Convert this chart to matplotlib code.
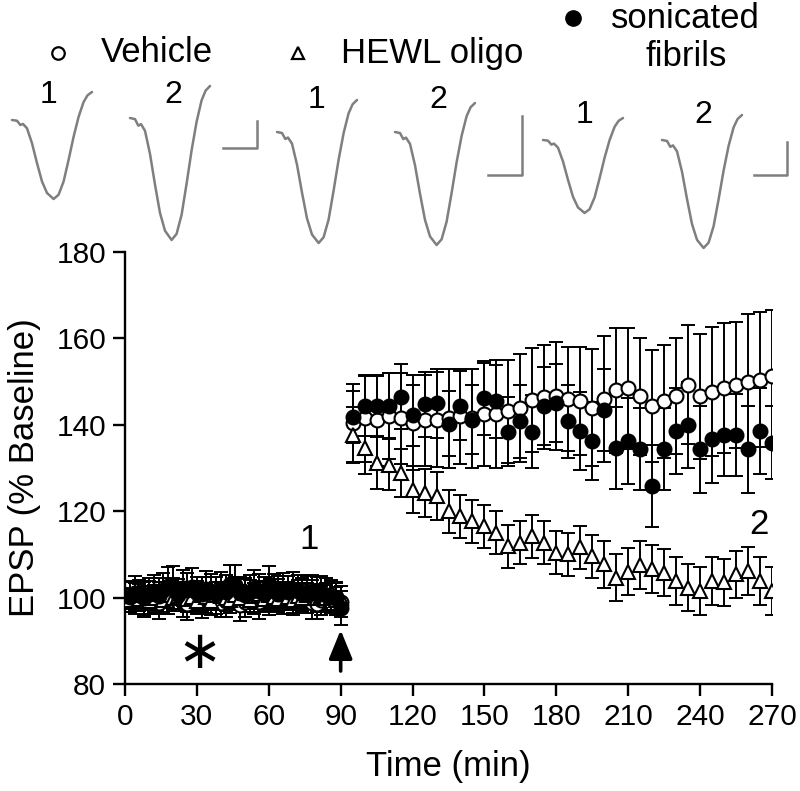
import matplotlib
matplotlib.use("Agg")
import matplotlib.pyplot as plt
import numpy as np

plt.rcParams['font.family'] = ['Liberation Sans', 'DejaVu Sans']
plt.rcParams['mathtext.fontset'] = 'dejavusans'

# ---- data ----
t_base = np.arange(2, 91, 2)      # baseline, every 2 min
t_post = np.arange(95, 271, 5)    # after induction, every 5 min

veh_base = [100.5, 99.8, 100.2, 99.0, 100.6, 99.5, 98.8, 100.1, 99.3, 101.0,
            100.2, 99.1, 98.6, 99.8, 100.4, 98.9, 99.6, 101.2, 100.0, 98.7,
            99.2, 100.5, 101.4, 98.4, 99.0, 100.8, 99.7, 98.9, 100.6, 99.4,
            100.9, 101.1, 99.8, 100.3, 99.5, 100.7, 101.0, 99.9, 98.8, 98.6,
            99.4, 100.2, 100.5, 99.6, 99.0]
hewl_base = [99.5, 100.3, 99.7, 100.6, 99.2, 100.0, 100.8, 99.4, 100.5, 99.9,
             100.4, 100.9, 99.6, 100.1, 99.3, 100.6, 100.2, 99.1, 100.7, 100.3,
             99.8, 99.5, 100.6, 100.0, 101.1, 99.4, 100.3, 100.8, 99.7, 100.5,
             100.1, 99.6, 100.9, 100.2, 99.5, 100.4, 100.0, 100.6, 101.0, 99.8,
             100.3, 99.9, 100.2, 99.5, 99.8]
fib_base = [100.2, 101.0, 100.5, 99.8, 100.9, 101.5, 100.4, 101.8, 102.6, 102.8,
            100.6, 102.3, 101.7, 102.4, 101.0, 100.8, 102.0, 101.5, 100.9, 101.8,
            101.3, 103.2, 103.0, 101.0, 100.6, 101.4, 102.2, 101.6, 100.8, 103.1,
            101.5, 100.9, 101.9, 101.3, 102.1, 101.6, 100.8, 101.2, 101.5, 100.9,
            101.3, 100.7, 100.2, 99.8, 97.6]
veh_base_err = [3.2, 3.5, 3.0, 3.6, 3.3, 3.1, 3.7, 3.4, 3.2, 3.6,
                3.3, 3.5, 3.8, 3.2, 3.4, 3.6, 3.1, 3.5, 3.7, 3.3,
                3.6, 3.2, 3.4, 3.8, 3.5, 3.3, 3.6, 3.9, 3.2, 3.4,
                3.5, 3.3, 3.7, 3.2, 3.6, 3.4, 3.3, 3.5, 3.8, 3.6,
                3.4, 3.2, 3.5, 3.7, 3.6]
hewl_base_err = [2.8, 3.0, 2.7, 3.1, 2.9, 3.0, 2.8, 3.2, 2.9, 3.0,
                 3.1, 2.8, 3.0, 2.9, 3.2, 2.8, 3.0, 3.1, 2.9, 3.0,
                 2.8, 3.1, 3.0, 2.9, 3.2, 2.8, 3.0, 2.9, 3.1, 3.0,
                 2.9, 3.0, 2.8, 3.1, 3.0, 2.9, 3.1, 2.8, 3.0, 3.2,
                 2.9, 3.0, 3.1, 2.9, 3.0]
fib_base_err = [3.6, 3.9, 3.5, 4.0, 3.7, 3.8, 4.1, 3.9, 4.4, 4.6,
                3.8, 4.0, 3.9, 4.5, 3.7, 3.9, 4.2, 4.0, 3.8, 4.1,
                3.9, 4.3, 4.6, 3.8, 4.0, 3.9, 4.2, 3.8, 4.0, 4.2,
                3.9, 4.1, 3.8, 3.6, 3.9, 3.7, 3.8, 3.9, 3.7, 3.8,
                3.6, 3.8, 3.7, 3.9, 3.9]

veh_post = [140.5, 141.5, 141.0, 142.0, 141.5, 140.5, 141.0, 141.2, 141.5, 142.0,
            141.5, 142.4, 142.4, 143.1, 144.0, 145.8, 146.5, 146.6, 146.0, 145.5,
            144.0, 146.0, 148.0, 148.5, 146.6, 144.3, 145.4, 146.6, 149.3, 146.6,
            147.7, 148.5, 149.3, 150.0, 150.4, 151.2]
veh_post_err = [9.0, 10.0, 10.5, 10.0, 10.5, 11.0, 10.5, 11.0, 11.5, 11.0,
                11.5, 12.0, 12.5, 12.0, 12.5, 12.0, 12.0, 12.5, 12.0, 12.5,
                13.5, 14.5, 14.5, 14.0, 13.5, 13.0, 13.0, 13.4, 13.7, 14.5,
                15.0, 15.0, 14.6, 15.6, 15.6, 15.4]
hewl_post = [137.7, 134.6, 131.2, 130.8, 128.8, 125.0, 124.2, 123.5, 120.0, 118.8,
             117.7, 116.5, 115.0, 111.9, 112.7, 114.2, 112.7, 110.4, 110.0, 111.6,
             109.6, 107.7, 104.6, 106.0, 107.5, 106.6, 105.8, 103.9, 102.3, 101.5,
             103.9, 103.5, 105.4, 106.2, 103.9, 101.5]
hewl_post_err = [6.5, 6.0, 6.0, 6.0, 5.5, 5.5, 5.5, 5.5, 5.0, 5.0,
                 5.0, 5.0, 5.0, 5.0, 5.0, 5.0, 5.0, 5.0, 5.0, 5.0,
                 5.0, 5.5, 5.5, 5.5, 5.5, 5.5, 5.5, 5.5, 5.5, 5.5,
                 5.5, 5.5, 5.5, 5.5, 5.5, 5.5]
fib_post = [141.8, 144.4, 144.3, 144.4, 146.5, 142.2, 144.7, 145.0, 140.3, 144.4,
            141.2, 146.2, 145.4, 138.4, 140.8, 138.4, 144.3, 145.0, 140.8, 138.5,
            136.2, 143.5, 134.6, 136.2, 134.3, 125.8, 134.3, 138.5, 140.0, 134.3,
            136.6, 137.7, 137.7, 134.3, 138.5, 135.9]
fib_post_err = [6.0, 7.0, 7.0, 7.5, 7.5, 7.0, 7.5, 8.0, 7.5, 8.0,
                8.0, 8.5, 8.5, 8.0, 8.5, 8.5, 9.0, 9.0, 8.5, 9.0,
                9.0, 9.5, 9.5, 10.0, 9.5, 9.5, 9.5, 10.0, 10.0, 10.0,
                10.0, 9.5, 9.5, 10.0, 10.0, 8.5]

# EPSP traces: normalised shape (falling phase scaled by depth, rising phase to overshoot)
fall_t = [0, 0.0625, 0.104, 0.1375, 0.1875, 0.25, 0.3125, 0.375, 0.4375, 0.52]
fall_v = [0, 0.009, 0.063, 0.05, 0.105, 0.294, 0.546, 0.778, 0.924, 1.0]
rise_t = [0.52, 0.5825, 0.645, 0.7075, 0.77, 0.8325, 0.895, 0.945, 1.0]
rise_v = [0, 0.04, 0.164, 0.366, 0.582, 0.768, 0.907, 0.97, 1.0]
trace_depth = [79, 122, 111, 113, 73, 108]
trace_over = [28, 32, 32, 29, 22, 25]

# ---- figure ----
fig = plt.figure(figsize=(8.0, 7.91), dpi=100)

# top panel with example traces and legend
tax = fig.add_axes([0, 1 - 260 / 791, 1, 260 / 791])
tax.set_xlim(0, 800)
tax.set_ylim(260, 0)
tax.axis('off')

trace_x0 = [12, 130, 277, 395, 543, 662]
trace_base = [120, 118, 132, 132, 140, 140]
gray = '#7f7f7f'
for x0, b, d, o in zip(trace_x0, trace_base, trace_depth, trace_over):
    xs = [x0 + 80 * t for t in fall_t] + [x0 + 80 * t for t in rise_t[1:]]
    ys = [b + d * v for v in fall_v] + [b + d - (d + o) * v for v in rise_v[1:]]
    tax.plot(xs, ys, color=gray, lw=1.8, solid_capstyle='round', solid_joinstyle='round')

# scale bars
for (xr, yb, h, w) in [(257, 148, 27, 34), (522, 175, 59, 34), (787, 175, 33, 33)]:
    tax.plot([xr - w, xr, xr], [yb, yb, yb - h], color=gray, lw=1.8)

big_fs = 25
num_fs = 23
for x, y, s in [(49, 95, '1'), (173, 95, '2'), (317, 100, '1'), (438, 100, '2'),
                (585, 115, '1'), (703, 115, '2')]:
    tax.text(x, y, s, fontsize=num_fs, ha='center', va='center')

# legend
tax.plot(58, 53, 'o', ms=9, mfc='white', mec='black', mew=1.6)
tax.text(101, 53, 'Vehicle', fontsize=big_fs, va='center', ha='left')
tax.plot(298, 53, '^', ms=9, mfc='white', mec='black', mew=1.6)
tax.text(341, 53, 'HEWL oligo', fontsize=big_fs, va='center', ha='left')
tax.plot(573, 18, 'o', ms=11, mfc='black', mec='black')
tax.text(611, 18, 'sonicated', fontsize=big_fs, va='center', ha='left')
tax.text(686, 56, 'fibrils', fontsize=big_fs, va='center', ha='center')

# main axes
ax = fig.add_axes([125 / 800, 1 - 684 / 791, 647 / 800, 432 / 791])
ax.set_xlim(0, 270)
ax.set_ylim(80, 180)

eb = dict(fmt='none', ecolor='black', elinewidth=1.4, capsize=4.8, capthick=1.4)
mk = dict(ms=10, mew=1.5, mec='black', ls='none')

t_all = np.concatenate([t_base, t_post])
series = [
    (veh_base + veh_post, veh_base_err + veh_post_err, 'o', 'white'),
    (hewl_base + hewl_post, hewl_base_err + hewl_post_err, '^', 'white'),
    (fib_base + fib_post, fib_base_err + fib_post_err, 'o', 'black'),
]
for vals, errs, m, fc in series:
    ax.errorbar(t_all, vals, yerr=errs, zorder=2, **eb)
for vals, errs, m, fc in series:
    ax.plot(t_all, vals, marker=m, mfc=fc, zorder=3, **mk)

ax.text(77, 113.5, '1', fontsize=big_fs, ha='center', va='center')
ax.text(264.5, 117, '2', fontsize=big_fs, ha='center', va='center')
ax.text(30, 87, r'$\ast$', fontsize=38, ha='center', va='center')
ax.annotate('', xy=(90, 92.5), xytext=(90, 83.0),
            arrowprops=dict(arrowstyle='-|>,head_width=0.45,head_length=1.1',
                            mutation_scale=16, color='black', lw=2.6,
                            shrinkA=0, shrinkB=0))

for side in ['top', 'right']:
    ax.spines[side].set_visible(False)
for side in ['left', 'bottom']:
    ax.spines[side].set_linewidth(1.7)
ax.set_xticks(np.arange(0, 271, 30))
ax.set_yticks(np.arange(80, 181, 20))
ax.tick_params(direction='out', length=8.5, width=1.7, labelsize=21.5, pad=5)
ax.set_xlabel('Time (min)', fontsize=big_fs)
ax.set_ylabel('EPSP (% Baseline)', fontsize=big_fs)
ax.xaxis.set_label_coords(0.5, -0.152)
ax.yaxis.set_label_coords(-0.13, 0.5)

fig.savefig('out.png', dpi=100)
